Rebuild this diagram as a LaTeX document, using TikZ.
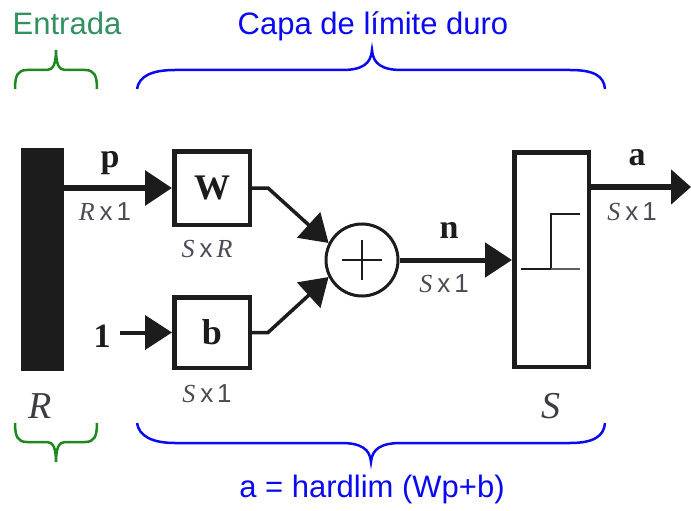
\documentclass[tikz,border=0pt]{standalone}
\usepackage{fontspec}
\setmainfont{Liberation Serif}
\setsansfont{Liberation Sans}
\usetikzlibrary{arrows.meta}
\definecolor{entgreen}{RGB}{50,145,95}
\definecolor{brgreen}{RGB}{30,135,30}
\definecolor{capblue}{RGB}{10,10,240}
\definecolor{dimgray}{RGB}{75,75,85}
\definecolor{ink}{RGB}{28,28,28}
\newcommand{\dimtxt}[2]{{\itshape #1}\kern5pt{\sffamily x}\kern4pt{#2}}
\begin{document}
\begin{tikzpicture}[x=1pt,y=-1pt,
  boxnode/.style={draw=ink, line width=4.5pt, fill=white, inner sep=0pt,
    minimum width=75.5pt, minimum height=73.5pt,
    font=\fontsize{36}{36}\selectfont\bfseries, text=ink},
  bigletter/.style={font=\fontsize{34}{34}\selectfont\bfseries, text=ink, inner sep=0pt, anchor=base},
  dimlab/.style={font=\fontsize{26}{26}\selectfont, text=dimgray, inner sep=0pt, anchor=base},
  biglab/.style={font=\fontsize{38}{38}\selectfont\itshape, text=dimgray!80!black, inner sep=0pt, anchor=base},
  title/.style={font=\fontsize{31}{31}\selectfont\sffamily, inner sep=0pt, anchor=base},
  sig/.style={-{Triangle[length=27pt,width=34pt]}, line width=5pt, draw=ink},
  thinsig/.style={-{Triangle[length=27pt,width=34pt]}, line width=3.5pt, draw=ink},
  gbrace/.style={draw=brgreen, line width=2.5pt},
  bbrace/.style={draw=capblue, line width=2.5pt}]
\useasboundingbox (0,0) rectangle (691,511);
\fill[white] (0,0) rectangle (691,511);

% titles
\node[title, text=entgreen] (entrada) at (67,35) {Entrada};
\node[title, text=capblue] (capa) at (373,35) {Capa de límite duro};
\node[title, text=capblue] (formula) at (372,497) {a = hardlim (Wp+b)};

% braces
\draw[gbrace] (15,89) .. controls (15,75) and (18,70) .. (27,70) -- (47,70)
  .. controls (53,70) and (56,64) .. (56,50) .. controls (56,64) and (59,70) .. (65,70)
  -- (85,70) .. controls (94,70) and (97,75) .. (97,89);
\draw[bbrace] (137,89) .. controls (139,76) and (152,70) .. (175,70) -- (342,70)
  .. controls (362,70) and (371,64) .. (372,50) .. controls (373,64) and (382,70) .. (402,70)
  -- (570,70) .. controls (594,70) and (604,76) .. (605,89);
\draw[gbrace] (15,423) .. controls (15,437) and (18,442) .. (27,442) -- (47,442)
  .. controls (53,442) and (56,448) .. (56,462) .. controls (56,448) and (59,442) .. (65,442)
  -- (85,442) .. controls (94,442) and (97,437) .. (97,423);
\draw[bbrace] (137,423) .. controls (139,436) and (152,443) .. (175,443) -- (341,443)
  .. controls (361,443) and (370,449) .. (371,462) .. controls (372,449) and (381,443) .. (401,443)
  -- (570,443) .. controls (594,443) and (604,436) .. (605,423);

% input bar
\node[fill=ink, inner sep=0pt, minimum width=43pt, minimum height=223pt] (bar) at (42.5,259.5) {};

% boxes
\node[boxnode] (W) at (212,188) {W};
\node[boxnode, minimum height=70.5pt] (b) at (212,332.5) {b};
\node[draw=ink, line width=4.5pt, inner sep=0pt, minimum width=74.5pt, minimum height=214.5pt] (hl) at (551.5,259.5) {};
\node[draw=ink, line width=3pt, circle, minimum size=72pt, inner sep=0pt] (sum) at (362,260) {};
\draw[ink, line width=2.8pt] ([xshift=-20pt]sum.center) -- ([xshift=20pt]sum.center);
\draw[ink, line width=2.8pt] ([yshift=-20pt]sum.center) -- ([yshift=20pt]sum.center);

% hard limit symbol
\draw[ink, line width=2.5pt] (521,269) -- (551,269) -- (551,214) -- (580,214);
\draw[ink!70, line width=2pt] (551,269) -- (580,269);

% labels
\node[bigletter] (plab) at (110,167) {p};
\node[dimlab] (pdim) at (105,220) {\dimtxt{R}{\sffamily 1}};
\node[dimlab] (Wdim) at (207,257) {\dimtxt{S}{\itshape R}};
\node[dimlab] (bdim) at (207,402) {\dimtxt{S}{\sffamily 1}};
\node[bigletter, inner xsep=9pt] (one) at (102,347) {1};
\node[bigletter] (nlab) at (449,238) {n};
\node[dimlab] (ndim) at (444,292) {\dimtxt{S}{\sffamily 1}};
\node[bigletter] (alab) at (637,165) {a};
\node[dimlab] (adim) at (632,220) {\dimtxt{S}{\sffamily 1}};
\node[biglab] (Rbot) at (40,418) {R};
\node[biglab] (Sbot) at (551,418) {S};

% connectors
\coordinate (aend) at (691,187);
\draw[sig, line width=6pt] (bar.east |- W.west) -- (W.west);
\draw[sig, line width=4pt] (one.east |- b.west) -- (b.west);
\draw[thinsig] (W.east) -- ++(16,0) -- (sum.153);
\draw[thinsig] (b.east) -- ++(16,0) -- (sum.207);
\draw[sig] (sum.east) -- (hl.west |- sum.east);
\draw[line width=6pt, draw=ink, -{Triangle[length=20pt,width=34pt]}] (hl.east |- aend) -- (aend);
\end{tikzpicture}
\end{document}
